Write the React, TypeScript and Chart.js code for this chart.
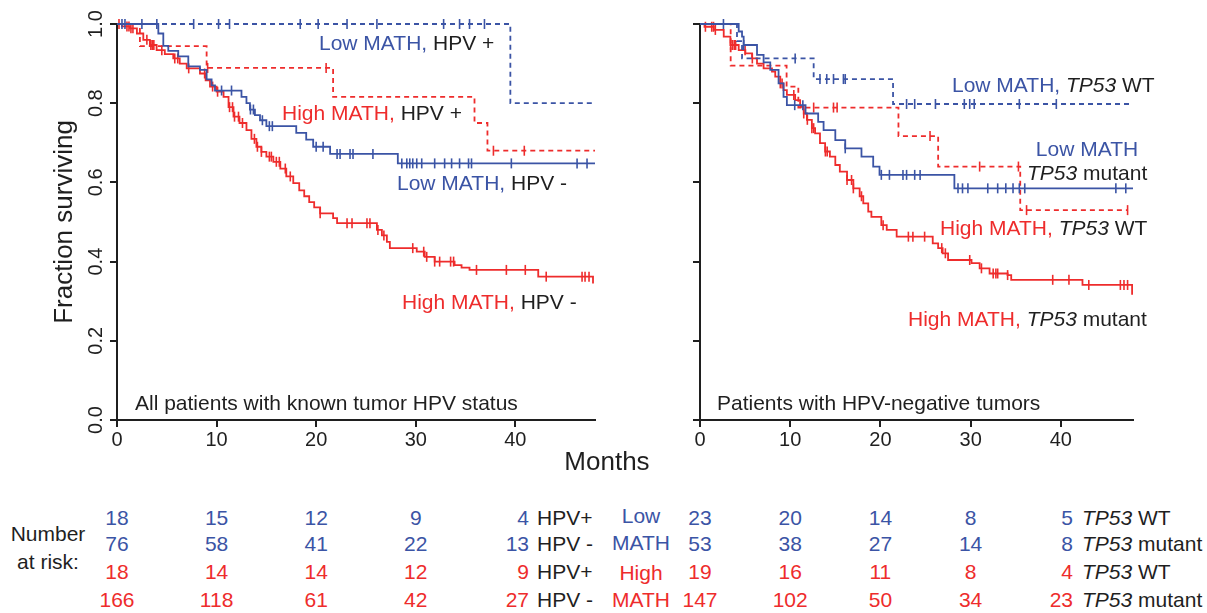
import React, { useEffect, useRef } from 'react';
import { Chart, registerables } from 'chart.js';

Chart.register(...registerables);

const BLUE = '#3b54a5';
const RED = '#ee2c2c';
const INK = '#1f1f1f';
const FONT = "'Liberation Sans', Arial, Helvetica, sans-serif";

// ---- axis ticks ----
const MONTH_TICKS = [0, 10, 20, 30, 40];
const SURV_TICKS = [0, 0.2, 0.4, 0.6, 0.8, 1.0];

// ---- Panel 1: all patients with known HPV status ----
const lowHpvPosTimes = [39.5];
const lowHpvPosSurv = [0.8];
const lowHpvPosCens = [0.8, 2.5, 4.0, 7.7, 10.2, 11.3, 18.4, 20.2, 23.1, 26.1, 32.8, 34.4, 35.4, 36.9];
const lowHpvPosEnd = 48;

const highHpvPosTimes = [2.3, 9.0, 21.7, 35.9, 37.2];
const highHpvPosSurv = [0.944, 0.889, 0.816, 0.75, 0.68];
const highHpvPosCens = [9.1, 21.0, 37.8, 40.9];
const highHpvPosEnd = 48;

const lowHpvNegTimes = [4.15, 4.65, 5.15, 6.15, 7.16, 8.33, 9.0, 9.5, 9.84, 12.5, 13.0, 13.35, 13.85, 14.36, 15.0, 18.0, 19.0, 19.7, 21.4, 28.2];
const lowHpvNegSurv = [0.976, 0.945, 0.932, 0.918, 0.893, 0.884, 0.86, 0.845, 0.832, 0.816, 0.8, 0.784, 0.77, 0.757, 0.742, 0.725, 0.708, 0.69, 0.672, 0.648];
const lowHpvNegCens = [0.5, 10.5, 11.5, 13.4, 13.7, 14.6, 15.3, 15.6, 20.0, 20.7, 22.1, 22.4, 23.4, 23.7, 25.7, 28.6, 29.1, 29.4, 29.7, 30.1, 30.6, 31.9, 32.9, 33.6, 34.4, 35.3, 35.6, 39.6, 46.2, 47.2];
const lowHpvNegEnd = 48;

const highHpvNegTimes = [0.5, 1.3, 2.0, 2.64, 3.3, 3.98, 4.8, 5.65, 6.3, 7.0, 8.33, 8.9, 9.34, 10.0, 10.7, 11.2, 11.7, 12.3, 13.0, 13.5, 14.0, 14.5, 15.0, 15.7, 16.4, 17.0, 17.7, 18.3, 18.8, 19.3, 19.8, 20.4, 21.7, 22.1, 26.1, 26.6, 27.1, 27.4, 30.1, 30.9, 31.9, 33.9, 34.6, 35.4, 42.3, 47.8];
const highHpvNegSurv = [0.994, 0.989, 0.976, 0.96, 0.947, 0.934, 0.924, 0.913, 0.9, 0.888, 0.875, 0.858, 0.842, 0.829, 0.816, 0.79, 0.766, 0.75, 0.732, 0.71, 0.69, 0.677, 0.665, 0.652, 0.635, 0.615, 0.598, 0.58, 0.565, 0.55, 0.537, 0.522, 0.51, 0.497, 0.48, 0.466, 0.45, 0.434, 0.425, 0.412, 0.4, 0.391, 0.385, 0.379, 0.362, 0.345];
const highHpvNegCens = [0.2, 1.0, 1.2, 1.4, 1.6, 3.0, 3.4, 3.55, 3.7, 4.5, 5.8, 6.1, 7.2, 8.8, 9.6, 10.1, 11.3, 11.6, 11.8, 12.2, 12.6, 13.8, 14.1, 14.5, 15.3, 15.5, 16.0, 16.3, 16.9, 17.4, 20.4, 23.1, 23.6, 25.1, 25.4, 26.2, 26.8, 29.7, 30.8, 31.1, 31.9, 32.4, 33.5, 33.8, 36.1, 39.1, 41.0, 43.1, 46.7, 47.0, 47.4];
const highHpvNegEnd = 47.8;

// ---- Panel 2: HPV-negative tumors ----
const lowWtTimes = [4.1, 4.66, 12.6, 21.4];
const lowWtSurv = [0.957, 0.913, 0.861, 0.798];
const lowWtCens = [2.6, 10.55, 13.3, 14.05, 14.8, 15.9, 16.1, 22.9, 23.8, 26.1, 29.3, 29.9, 30.4, 35.4, 39.5];
const lowWtEnd = 48;

const highWtTimes = [3.4, 9.6, 10.9, 22.0, 26.4, 35.5];
const highWtSurv = [0.895, 0.842, 0.789, 0.717, 0.64, 0.53];
const highWtCens = [12.6, 14.8, 15.2, 25.5, 31.0, 35.3, 36.2, 47.4];
const highWtEnd = 47.4;

const lowMutTimes = [4.29, 4.66, 4.84, 6.32, 7.05, 7.79, 8.71, 9.26, 9.63, 11.7, 13.1, 13.7, 15.0, 16.1, 17.9, 19.2, 19.9, 28.2];
const lowMutSurv = [0.981, 0.968, 0.947, 0.922, 0.903, 0.884, 0.85, 0.816, 0.795, 0.774, 0.753, 0.732, 0.707, 0.686, 0.665, 0.64, 0.619, 0.585];
const lowMutCens = [4.84, 10.5, 11.4, 16.1, 20.1, 21.0, 22.5, 22.9, 23.8, 24.4, 28.6, 29.1, 29.7, 31.9, 33.0, 33.9, 34.7, 35.4, 36.0, 46.1, 47.2];
const lowMutEnd = 48;

const highMutTimes = [0.5, 1.53, 2.63, 3.37, 4.29, 5.03, 5.77, 6.32, 7.05, 7.98, 8.34, 8.9, 9.26, 9.63, 10.55, 11.1, 11.5, 11.85, 12.4, 12.76, 13.3, 13.87, 14.4, 15.0, 15.5, 16.3, 17.0, 17.7, 18.1, 18.65, 19.0, 20.1, 20.7, 21.8, 25.8, 26.4, 26.9, 27.5, 30.1, 31.0, 32.1, 34.1, 34.5, 42.4, 47.9];
const highMutSurv = [0.993, 0.985, 0.968, 0.947, 0.934, 0.926, 0.913, 0.9, 0.888, 0.88, 0.867, 0.85, 0.833, 0.821, 0.808, 0.791, 0.774, 0.758, 0.737, 0.724, 0.699, 0.678, 0.665, 0.644, 0.627, 0.606, 0.585, 0.565, 0.547, 0.526, 0.513, 0.492, 0.48, 0.463, 0.446, 0.434, 0.421, 0.404, 0.396, 0.383, 0.37, 0.366, 0.354, 0.341, 0.316];
const highMutCens = [0.6, 1.3, 1.5, 1.7, 3.4, 3.6, 3.8, 3.95, 5.0, 5.8, 8.9, 9.1, 10.4, 11.5, 11.9, 12.4, 12.6, 13.9, 14.1, 16.3, 16.8, 17.0, 17.9, 20.3, 23.1, 23.6, 24.9, 26.8, 27.2, 29.9, 31.2, 32.5, 32.8, 33.0, 34.1, 39.1, 40.9, 43.1, 46.6, 47.0, 47.4];
const highMutEnd = 47.9;

// ---- Number at risk ----
const riskMonths = [0, 10, 20, 30, 40];
const riskLowHpvPos = [18, 15, 12, 9, 4];
const riskLowHpvNeg = [76, 58, 41, 22, 13];
const riskHighHpvPos = [18, 14, 14, 12, 9];
const riskHighHpvNeg = [166, 118, 61, 42, 27];
const riskLowWt = [23, 20, 14, 8, 5];
const riskLowMut = [53, 38, 27, 14, 8];
const riskHighWt = [19, 16, 11, 8, 4];
const riskHighMut = [147, 102, 50, 34, 23];

// ---- layout (pixels) ----
const TOP = 24;
const BOTTOM = 420;
const L_LEFT = 117;
const L_RIGHT = 595;
const R_LEFT = 700;
const R_RIGHT = 1133;
const CANVAS_H = 460;

type Curve = { times: number[]; surv: number[]; cens: number[]; end: number; color: string; dashed: boolean };

function steps(c: Curve) {
  const pts = [{ x: 0, y: 1 }];
  c.times.forEach((t, i) => pts.push({ x: t, y: c.surv[i] }));
  pts.push({ x: c.end, y: c.surv.length ? c.surv[c.surv.length - 1] : 1 });
  return pts;
}
function survAt(c: Curve, t: number) {
  let s = 1;
  c.times.forEach((tt, i) => {
    if (tt <= t) s = c.surv[i];
  });
  return s;
}

const panel1: Curve[] = [
  { times: lowHpvPosTimes, surv: lowHpvPosSurv, cens: lowHpvPosCens, end: lowHpvPosEnd, color: BLUE, dashed: true },
  { times: lowHpvNegTimes, surv: lowHpvNegSurv, cens: lowHpvNegCens, end: lowHpvNegEnd, color: BLUE, dashed: false },
  { times: highHpvPosTimes, surv: highHpvPosSurv, cens: highHpvPosCens, end: highHpvPosEnd, color: RED, dashed: true },
  { times: highHpvNegTimes, surv: highHpvNegSurv, cens: highHpvNegCens, end: highHpvNegEnd, color: RED, dashed: false },
];
const panel2: Curve[] = [
  { times: lowWtTimes, surv: lowWtSurv, cens: lowWtCens, end: lowWtEnd, color: BLUE, dashed: true },
  { times: lowMutTimes, surv: lowMutSurv, cens: lowMutCens, end: lowMutEnd, color: BLUE, dashed: false },
  { times: highWtTimes, surv: highWtSurv, cens: highWtCens, end: highWtEnd, color: RED, dashed: true },
  { times: highMutTimes, surv: highMutSurv, cens: highMutCens, end: highMutEnd, color: RED, dashed: false },
];

function makeChart(canvas: HTMLCanvasElement, curves: Curve[], yAxisWidth: number, padRight: number, showY: boolean) {
  const datasets: any[] = [];
  curves.forEach((c) => {
    datasets.push({
      type: 'line',
      data: steps(c),
      borderColor: c.color,
      borderWidth: 1.8,
      borderDash: c.dashed ? [5, 4] : [],
      stepped: true,
      pointRadius: 0,
      fill: false,
      clip: false,
    });
    datasets.push({
      type: 'scatter',
      data: c.cens.map((t) => ({ x: t, y: survAt(c, t) })),
      pointStyle: 'line',
      pointRotation: 90,
      pointRadius: 5,
      pointBorderColor: c.color,
      pointBackgroundColor: c.color,
      borderColor: c.color,
      pointBorderWidth: 1.6,
      showLine: false,
      clip: false,
    });
  });
  const tickFont = { size: 20, family: FONT };
  return new Chart(canvas, {
    type: 'line',
    data: { datasets },
    options: {
      animation: false,
      responsive: false,
      maintainAspectRatio: false,
      devicePixelRatio: 1,
      events: [],
      layout: { padding: { left: 0, top: TOP, right: padRight, bottom: 0 } },
      plugins: { legend: { display: false }, tooltip: { enabled: false }, title: { display: false } },
      scales: {
        x: {
          type: 'linear',
          min: 0,
          max: 48,
          afterBuildTicks: (s: any) => {
            s.ticks = MONTH_TICKS.map((v) => ({ value: v }));
          },
          ticks: { font: tickFont, color: INK, padding: 1, maxRotation: 0, minRotation: 0, autoSkip: false, includeBounds: false },
          grid: { drawOnChartArea: false, drawTicks: true, tickLength: 7, color: INK, lineWidth: 2 },
          border: { display: true, color: INK, width: 2 },
          afterFit: (s: any) => {
            s.height = CANVAS_H - BOTTOM;
          },
        },
        y: {
          type: 'linear',
          min: 0,
          max: 1,
          afterBuildTicks: (s: any) => {
            s.ticks = SURV_TICKS.map((v) => ({ value: v }));
          },
          ticks: {
            display: showY,
            callback: (v: any) => Number(v).toFixed(1),
            minRotation: 90,
            maxRotation: 90,
            crossAlign: 'center',
            padding: 0,
            font: tickFont,
            color: INK,
          },
          grid: { drawOnChartArea: false, drawTicks: true, tickLength: 7, color: INK, lineWidth: 2 },
          border: { display: true, color: INK, width: 2 },
          title: {
            display: showY,
            text: 'Fraction surviving',
            font: { size: 26, family: FONT },
            color: INK,
            padding: { top: 49, bottom: 0 },
          },
          afterFit: (s: any) => {
            s.width = yAxisWidth;
          },
        },
      },
    } as any,
  });
}

type Run = [string, string, boolean?];
function Txt(props: { x: number; cy: number; runs: Run[]; size?: number; align?: 'left' | 'center' | 'right' }) {
  const { x, cy, runs, size = 21, align = 'left' } = props;
  const lh = Math.round(size * 1.2);
  const W = 600;
  const left = align === 'left' ? x : align === 'center' ? x - W / 2 : x - W;
  return (
    <div
      style={{
        position: 'absolute',
        left,
        top: cy - lh / 2,
        width: align === 'left' ? undefined : W,
        textAlign: align,
        fontSize: size,
        lineHeight: lh + 'px',
        whiteSpace: 'nowrap',
        fontFamily: FONT,
      }}
    >
      {runs.map((r, i) => (
        <span key={i} style={{ color: r[1], fontStyle: r[2] ? 'italic' : 'normal' }}>
          {r[0]}
        </span>
      ))}
    </div>
  );
}

const L_PX = (m: number) => L_LEFT + (m / 48) * (L_RIGHT - L_LEFT);
const R_PX = (m: number) => R_LEFT + (m / 48) * (R_RIGHT - R_LEFT);

function RiskRow(props: { vals: number[]; color: string; cy: number; px: (m: number) => number; lastRight: number }) {
  const { vals, color, cy, px, lastRight } = props;
  return (
    <>
      {vals.map((v, i) =>
        i < vals.length - 1 ? (
          <Txt key={i} x={px(riskMonths[i])} cy={cy} runs={[[String(v), color]]} align="center" />
        ) : (
          <Txt key={i} x={lastRight} cy={cy} runs={[[String(v), color]]} align="right" />
        )
      )}
    </>
  );
}

export default function App() {
  const c1 = useRef<HTMLCanvasElement>(null);
  const c2 = useRef<HTMLCanvasElement>(null);
  useEffect(() => {
    const a = makeChart(c1.current!, panel1, L_LEFT, 610 - L_RIGHT, true);
    const b = makeChart(c2.current!, panel2, R_LEFT - 600, 1160 - R_RIGHT, false);
    return () => {
      a.destroy();
      b.destroy();
    };
  }, []);

  const rows = [517, 543, 571, 599];
  return (
    <div style={{ position: 'absolute', left: 0, top: 0, width: 1207, height: 613, background: '#fff', overflow: 'hidden', fontFamily: FONT }}>
      <canvas ref={c1} width={610} height={CANVAS_H} style={{ position: 'absolute', left: 0, top: 0, width: 610, height: CANVAS_H }} />
      <canvas ref={c2} width={560} height={CANVAS_H} style={{ position: 'absolute', left: 600, top: 0, width: 560, height: CANVAS_H }} />

      {/* panel 1 annotations */}
      <Txt x={319} cy={42} runs={[['Low MATH,', BLUE], [' HPV +', INK]]} />
      <Txt x={282} cy={112} runs={[['High MATH,', RED], [' HPV +', INK]]} />
      <Txt x={397} cy={182} runs={[['Low MATH,', BLUE], [' HPV -', INK]]} />
      <Txt x={402} cy={301} runs={[['High MATH,', RED], [' HPV -', INK]]} />
      <Txt x={135} cy={402} runs={[['All patients with known tumor HPV status', INK]]} />

      {/* panel 2 annotations */}
      <Txt x={952} cy={84} runs={[['Low MATH, ', BLUE], ['TP53', INK, true], [' WT', INK]]} />
      <Txt x={1087} cy={148} runs={[['Low MATH', BLUE]]} align="center" />
      <Txt x={1027} cy={172} runs={[['TP53', INK, true], [' mutant', INK]]} />
      <Txt x={940} cy={227} runs={[['High MATH, ', RED], ['TP53', INK, true], [' WT', INK]]} />
      <Txt x={908} cy={318} runs={[['High MATH, ', RED], ['TP53', INK, true], [' mutant', INK]]} />
      <Txt x={717} cy={402} runs={[['Patients with HPV-negative tumors', INK]]} />

      <Txt x={607} cy={461} runs={[['Months', INK]]} size={26} align="center" />

      {/* number at risk, left */}
      <Txt x={48} cy={533} runs={[['Number', INK]]} align="center" />
      <Txt x={48} cy={561} runs={[['at risk:', INK]]} align="center" />
      <RiskRow vals={riskLowHpvPos} color={BLUE} cy={rows[0]} px={L_PX} lastRight={529} />
      <RiskRow vals={riskLowHpvNeg} color={BLUE} cy={rows[1]} px={L_PX} lastRight={529} />
      <RiskRow vals={riskHighHpvPos} color={RED} cy={rows[2]} px={L_PX} lastRight={529} />
      <RiskRow vals={riskHighHpvNeg} color={RED} cy={rows[3]} px={L_PX} lastRight={529} />
      <Txt x={537} cy={rows[0]} runs={[['HPV+', INK]]} />
      <Txt x={537} cy={rows[1]} runs={[['HPV -', INK]]} />
      <Txt x={537} cy={rows[2]} runs={[['HPV+', INK]]} />
      <Txt x={537} cy={rows[3]} runs={[['HPV -', INK]]} />

      {/* number at risk, right */}
      <Txt x={641} cy={515} runs={[['Low', BLUE]]} align="center" />
      <Txt x={641} cy={542} runs={[['MATH', BLUE]]} align="center" />
      <Txt x={641} cy={572} runs={[['High', RED]]} align="center" />
      <Txt x={641} cy={599} runs={[['MATH', RED]]} align="center" />
      <RiskRow vals={riskLowWt} color={BLUE} cy={rows[0]} px={R_PX} lastRight={1073} />
      <RiskRow vals={riskLowMut} color={BLUE} cy={rows[1]} px={R_PX} lastRight={1073} />
      <RiskRow vals={riskHighWt} color={RED} cy={rows[2]} px={R_PX} lastRight={1073} />
      <RiskRow vals={riskHighMut} color={RED} cy={rows[3]} px={R_PX} lastRight={1073} />
      <Txt x={1082} cy={rows[0]} runs={[['TP53', INK, true], [' WT', INK]]} />
      <Txt x={1082} cy={rows[1]} runs={[['TP53', INK, true], [' mutant', INK]]} />
      <Txt x={1082} cy={rows[2]} runs={[['TP53', INK, true], [' WT', INK]]} />
      <Txt x={1082} cy={rows[3]} runs={[['TP53', INK, true], [' mutant', INK]]} />
    </div>
  );
}
